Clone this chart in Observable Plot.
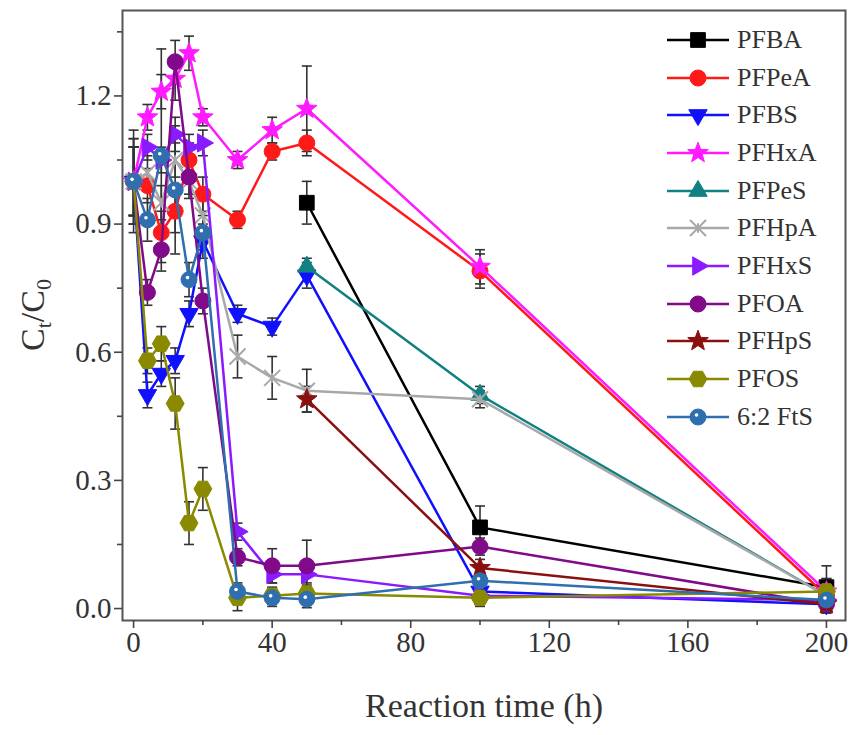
<!DOCTYPE html>
<html><head><meta charset="utf-8">
<script src="https://cdn.jsdelivr.net/npm/d3@7"></script>
<script src="https://cdn.jsdelivr.net/npm/@observablehq/plot@0.6"></script>
<style>
body{margin:0;background:#fff;font-family:'Liberation Serif',serif;}
#wrap{position:relative;width:853px;height:735px;}
#legend{position:absolute;left:665px;top:21px;}
.item{display:flex;align-items:center;height:37.7px;}
.item span{font-size:26px;color:#333;margin-left:6px;line-height:1;}
</style>
</head><body>
<div id="wrap"><div id="chart"></div><div id="legend"></div></div>
<script>
// ---- data ----
const timesFull = [0, 4, 8, 12, 16, 20, 30, 40, 50, 100, 200];
const timesLate = [50, 100, 200];
const seriesNames = ["PFBA","PFPeA","PFBS","PFHxA","PFPeS","PFHpA","PFHxS","PFOA","PFHpS","PFOS","6:2 FtS"];
const seriesColors = ["#000000","#ff1a1a","#1010ff","#ff1aff","#108080","#a8a8a8","#8a1aff","#800a8a","#8a1010","#8a8a00","#2f6fb0"];

const PFBA    = [0.95, 0.19, 0.05];
const PFBA_e  = [0.05, 0.05, 0.05];
const PFPeA   = [1.00, 0.99, 0.88, 0.93, 1.05, 0.97, 0.91, 1.07, 1.09, 0.79, 0.03];
const PFPeA_e = [0.10, 0.04, 0.05, 0.05, 0.04, 0.04, 0.02, 0.02, 0.03, 0.04, 0.03];
const PFBS    = [1.00, 0.50, 0.55, 0.58, 0.69, 0.86, 0.69, 0.66, 0.78, 0.04, 0.01];
const PFBS_e  = [0.08, 0.03, 0.03, 0.03, 0.03, 0.04, 0.02, 0.02, 0.03, 0.02, 0.02];
const PFHxA   = [1.00, 1.15, 1.21, 1.24, 1.30, 1.15, 1.05, 1.12, 1.17, 0.80, 0.04];
const PFHxA_e = [0.08, 0.03, 0.04, 0.05, 0.04, 0.02, 0.02, 0.03, 0.10, 0.04, 0.03];
const PFPeS   = [0.80, 0.50, 0.03];
const PFPeS_e = [0.02, 0.02, 0.02];
const PFHpA   = [1.00, 1.02, 0.95, 1.05, 1.00, 0.92, 0.59, 0.54, 0.51, 0.49, 0.03];
const PFHpA_e = [0.08, 0.04, 0.04, 0.04, 0.04, 0.04, 0.05, 0.05, 0.05, 0.02, 0.02];
const PFHxS   = [1.00, 1.08, 1.05, 1.11, 1.08, 1.09, 0.18, 0.08, 0.08, 0.03, 0.02];
const PFHxS_e = [0.08, 0.03, 0.03, 0.04, 0.03, 0.03, 0.02, 0.02, 0.02, 0.01, 0.01];
const PFOA    = [1.00, 0.74, 0.84, 1.28, 1.01, 0.72, 0.12, 0.10, 0.10, 0.145, 0.01];
const PFOA_e  = [0.08, 0.03, 0.05, 0.05, 0.04, 0.03, 0.02, 0.04, 0.06, 0.02, 0.02];
const PFHpS   = [0.49, 0.095, 0.01];
const PFHpS_e = [0.03, 0.02, 0.02];
const PFOS    = [1.00, 0.58, 0.62, 0.48, 0.20, 0.28, 0.025, 0.03, 0.035, 0.025, 0.04];
const PFOS_e  = [0.12, 0.03, 0.04, 0.06, 0.05, 0.05, 0.03, 0.02, 0.02, 0.02, 0.03];
const FtS62   = [1.00, 0.91, 1.06, 0.98, 0.77, 0.88, 0.04, 0.025, 0.022, 0.065, 0.02];
const FtS62_e = [0.10, 0.05, 0.25, 0.15, 0.04, 0.04, 0.02, 0.02, 0.02, 0.02, 0.02];

const xTicks = [0, 40, 80, 120, 160, 200];
const xMinor = [20, 60, 100, 140, 180];
const yTicks = [0, 0.3, 0.6, 0.9, 1.2];
const yMinor = [0.15, 0.45, 0.75, 1.05, 1.35];

const FONT = "'Liberation Serif', serif";

// ---- symbols ----
const rad = s => Math.sqrt(s / Math.PI);
const symSquare = {draw(c, s){const r = rad(s) * 0.92; c.rect(-r, -r, 2*r, 2*r);}};
const symCircle = {draw(c, s){const r = rad(s); c.moveTo(r, 0); c.arc(0, 0, r, 0, 2*Math.PI);}};
const symTriDown = {draw(c, s){const a = rad(s) * 2.3, h = a*Math.sqrt(3)/2; c.moveTo(-a/2, -h/3); c.lineTo(a/2, -h/3); c.lineTo(0, 2*h/3); c.closePath();}};
const symTriUp = {draw(c, s){const a = rad(s) * 2.3, h = a*Math.sqrt(3)/2; c.moveTo(-a/2, h/3); c.lineTo(a/2, h/3); c.lineTo(0, -2*h/3); c.closePath();}};
const symTriRight = {draw(c, s){const a = rad(s) * 2.3, h = a*Math.sqrt(3)/2; c.moveTo(-h/3, -a/2); c.lineTo(-h/3, a/2); c.lineTo(2*h/3, 0); c.closePath();}};
const symStar = {draw(c, s){const R = rad(s) * 1.35, r = R * 0.42; for (let i = 0; i < 10; i++){const ang = -Math.PI/2 + i*Math.PI/5, rr = i % 2 ? r : R; const x = rr*Math.cos(ang), y = rr*Math.sin(ang); i ? c.lineTo(x, y) : c.moveTo(x, y);} c.closePath();}};
const symX = {draw(c, s){const r = rad(s) * 1.0; c.moveTo(-r, -r); c.lineTo(r, r); c.moveTo(-r, r); c.lineTo(r, -r); c.moveTo(0,-r*0.6); c.lineTo(0,r*0.6);}};
const symPent = {draw(c, s){const R = rad(s) * 1.12; for (let i = 0; i < 6; i++){const ang = i*Math.PI/3; const x = R*Math.cos(ang), y = R*Math.sin(ang); i ? c.lineTo(x, y) : c.moveTo(x, y);} c.closePath();}};
const symCap = {draw(c, s){const r = rad(s); c.moveTo(-r, 0); c.lineTo(r, 0);}};

const defs = [
  {name: "PFBA", t: timesLate, v: PFBA, e: PFBA_e, sym: symSquare},
  {name: "PFPeA", t: timesFull, v: PFPeA, e: PFPeA_e, sym: symCircle},
  {name: "PFBS", t: timesFull, v: PFBS, e: PFBS_e, sym: symTriDown},
  {name: "PFHxA", t: timesFull, v: PFHxA, e: PFHxA_e, sym: symStar},
  {name: "PFPeS", t: timesLate, v: PFPeS, e: PFPeS_e, sym: symTriUp},
  {name: "PFHpA", t: timesFull, v: PFHpA, e: PFHpA_e, sym: symX, strokeOnly: true},
  {name: "PFHxS", t: timesFull, v: PFHxS, e: PFHxS_e, sym: symTriRight},
  {name: "PFOA", t: timesFull, v: PFOA, e: PFOA_e, sym: symCircle},
  {name: "PFHpS", t: timesLate, v: PFHpS, e: PFHpS_e, sym: symStar},
  {name: "PFOS", t: timesFull, v: PFOS, e: PFOS_e, sym: symPent},
  {name: "6:2 FtS", t: timesFull, v: FtS62, e: FtS62_e, sym: symCircle, dot: true}
];
defs.forEach(d => { d.color = seriesColors[seriesNames.indexOf(d.name)]; d.rows = d.t.map((t, j) => ({t, v: d.v[j], e: d.e[j], s: d.name})); });

const marks = [];
// error bars
defs.forEach(d => {
  marks.push(Plot.ruleX(d.rows, {x: "t", y1: r => r.v - r.e, y2: r => r.v + r.e, stroke: "#333", strokeWidth: 1.6}));
  marks.push(Plot.dot(d.rows, {x: "t", y: r => r.v + r.e, symbol: symCap, r: 5, stroke: "#333", strokeWidth: 1.6, fill: "none"}));
  marks.push(Plot.dot(d.rows, {x: "t", y: r => r.v - r.e, symbol: symCap, r: 5, stroke: "#333", strokeWidth: 1.6, fill: "none"}));
});
// lines and markers
defs.forEach(d => {
  marks.push(Plot.line(d.rows, {x: "t", y: "v", stroke: d.color, strokeWidth: 2.5}));
  if (d.strokeOnly) {
    marks.push(Plot.dot(d.rows, {x: "t", y: "v", symbol: d.sym, r: 8, stroke: d.color, strokeWidth: 2, fill: "none"}));
  } else {
    marks.push(Plot.dot(d.rows, {x: "t", y: "v", symbol: d.sym, r: 8, fill: d.color, stroke: d.color, strokeWidth: 1}));
  }
  if (d.dot) marks.push(Plot.dot(d.rows, {x: "t", y: "v", r: 1.8, dx: -1.5, dy: -2, fill: "white", stroke: "none"}));
});

const chart = Plot.plot({
  width: 853, height: 735,
  marginLeft: 122, marginRight: 8, marginTop: 10, marginBottom: 115,
  style: {color: "#333", background: "white"},
  x: {domain: [-3.2, 205.5]},
  y: {domain: [-0.028, 1.40]},
  marks: [
    ...marks,
    Plot.frame({stroke: "#555", strokeWidth: 2}),
    Plot.axisX(xTicks, {tickSize: 8, tickPadding: 3, fontSize: 29, label: null, stroke: "#444", strokeWidth: 1.6}),
    Plot.axisX(xMinor, {tickSize: 5, tickFormat: () => "", label: null, stroke: "#444", strokeWidth: 1.6}),
    Plot.axisY(yTicks, {tickSize: 8, tickPadding: 3, fontSize: 29, tickFormat: d3.format(".1f"), label: null, stroke: "#444", strokeWidth: 1.6}),
    Plot.axisY(yMinor, {tickSize: 5, tickFormat: () => "", label: null, stroke: "#444", strokeWidth: 1.6}),
    Plot.text(["Reaction time (h)"], {frameAnchor: "bottom", dy: 96, fontSize: 34, fill: "#333"})
  ]
});
document.getElementById("chart").appendChild(chart);

// y axis label with subscripts
const svg = d3.select(chart);
const yl = svg.append("text")
  .attr("transform", "translate(44,315) rotate(-90)")
  .attr("text-anchor", "middle")
  .attr("font-size", 34)
  .attr("fill", "#333");
yl.append("tspan").text("C");
yl.append("tspan").attr("font-size", 22).attr("dy", 7).text("t");
yl.append("tspan").attr("dy", -7).text("/C");
yl.append("tspan").attr("font-size", 22).attr("dy", 7).text("0");

// legend
const leg = d3.select("#legend");
defs.forEach(d => {
  const it = leg.append("div").attr("class", "item");
  const s = it.append("svg").attr("width", 66).attr("height", 24);
  s.append("line").attr("x1", 2).attr("x2", 64).attr("y1", 12).attr("y2", 12).attr("stroke", d.color).attr("stroke-width", 2.6);
  const p = d3.path(); d.sym.draw(p, Math.PI * 8 * 8);
  const g = s.append("path").attr("d", p.toString()).attr("transform", "translate(33,12)");
  if (d.strokeOnly) g.attr("fill", "none").attr("stroke", d.color).attr("stroke-width", 2);
  else g.attr("fill", d.color).attr("stroke", d.color);
  if (d.dot) s.append("circle").attr("cx", 31.5).attr("cy", 10).attr("r", 1.8).attr("fill", "white");
  it.append("span").text(d.name);
});

// force serif font everywhere
chart.style.setProperty("font-family", FONT, "important");
document.querySelectorAll("#wrap text, #wrap tspan, #wrap span, #wrap g, #wrap svg").forEach(el => el.style.setProperty("font-family", FONT, "important"));
</script>
</body></html>
